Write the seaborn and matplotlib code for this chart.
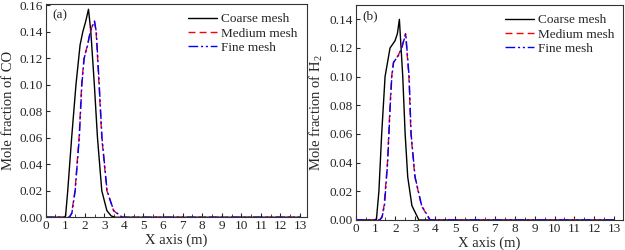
import numpy as np
import pandas as pd
import matplotlib
matplotlib.use("Agg")
import matplotlib.pyplot as plt
from matplotlib.ticker import MultipleLocator
import seaborn as sns

# CO mole fraction (panel a)
co_coarse_x = [0.0, 0.95, 1.02, 1.13, 1.33, 1.55, 1.76, 1.90, 2.05, 2.19, 2.31, 2.49, 2.65, 2.87, 3.13, 3.35, 3.55, 13.0]
co_coarse_y = [0.0, 0.0, 0.001, 0.02, 0.06, 0.10, 0.13, 0.14, 0.148, 0.157, 0.14, 0.10, 0.06, 0.02, 0.005, 0.001, 0.0, 0.0]
co_medium_x = [0.0, 1.20, 1.33, 1.50, 1.71, 1.84, 1.96, 2.14, 2.27, 2.40, 2.49, 2.58, 2.73, 2.87, 3.13, 3.47, 3.90, 13.0]
co_medium_y = [0.0, 0.0, 0.003, 0.02, 0.06, 0.10, 0.12, 0.13, 0.14, 0.145, 0.148, 0.14, 0.10, 0.06, 0.02, 0.005, 0.0, 0.0]
co_fine_x = [0.0, 1.22, 1.34, 1.51, 1.72, 1.85, 1.97, 2.15, 2.28, 2.41, 2.50, 2.59, 2.74, 2.88, 3.14, 3.48, 3.92, 13.0]
co_fine_y = [0.0, 0.0, 0.003, 0.02, 0.06, 0.10, 0.12, 0.13, 0.14, 0.145, 0.148, 0.14, 0.10, 0.06, 0.02, 0.005, 0.0, 0.0]

# H2 mole fraction (panel b)
h2_coarse_x = [0.0, 0.98, 1.05, 1.17, 1.31, 1.48, 1.73, 1.98, 2.10, 2.20, 2.37, 2.49, 2.62, 2.83, 3.18, 13.0]
h2_coarse_y = [0.0, 0.0, 0.001, 0.02, 0.06, 0.10, 0.12, 0.125, 0.13, 0.14, 0.10, 0.06, 0.03, 0.01, 0.0, 0.0]
h2_medium_x = [0.0, 1.20, 1.31, 1.43, 1.60, 1.73, 1.81, 1.90, 2.15, 2.31, 2.51, 2.68, 2.78, 2.98, 3.31, 3.73, 13.0]
h2_medium_y = [0.0, 0.0, 0.002, 0.01, 0.04, 0.08, 0.10, 0.11, 0.115, 0.12, 0.13, 0.10, 0.06, 0.03, 0.01, 0.0, 0.0]
h2_fine_x = [0.0, 1.22, 1.33, 1.45, 1.61, 1.74, 1.82, 1.91, 2.16, 2.32, 2.52, 2.69, 2.79, 2.99, 3.32, 3.75, 13.0]
h2_fine_y = [0.0, 0.0, 0.002, 0.01, 0.04, 0.08, 0.10, 0.11, 0.115, 0.12, 0.13, 0.10, 0.06, 0.03, 0.01, 0.0, 0.0]

labels = ["Coarse mesh", "Medium mesh", "Fine mesh"]
colors = ["black", "red", "blue"]
styles = ["-", (0, (5, 3)), (0, (7, 2, 1.5, 2, 1.5, 2))]

sns.set_style("ticks")
plt.rcParams["font.family"] = ["Liberation Serif", "DejaVu Serif"]
plt.rcParams["mathtext.fontset"] = "custom"
plt.rcParams["mathtext.rm"] = "Liberation Serif"
plt.rcParams["font.size"] = 9.5

fig = plt.figure(figsize=(6.25, 2.5), dpi=100)
ax1 = fig.add_axes([0.073, 0.131, 0.418, 0.853])
ax2 = fig.add_axes([0.569, 0.12, 0.428, 0.86])


def draw(ax, series, ylabel, ymax, tag):
    for (x, y), lab, c, ls in zip(series, labels, colors, styles):
        df = pd.DataFrame({"x": x, "y": y})
        sns.lineplot(data=df, x="x", y="y", ax=ax, color=c, linestyle=ls,
                     linewidth=1.0, label=lab, estimator=None, sort=False)
    ax.set_xlim(0, 13.45)
    ax.set_ylim(0, ymax)
    ax.set_xticks(range(0, 14))
    ax.xaxis.set_minor_locator(MultipleLocator(0.5))
    ax.yaxis.set_major_locator(MultipleLocator(0.02))
    ax.yaxis.set_major_formatter(matplotlib.ticker.FormatStrFormatter("%.2f"))
    ax.tick_params(direction="in", which="both", labelsize=9.5, length=3, pad=2)
    ax.tick_params(which="minor", length=2)
    for s in ax.spines.values():
        s.set_linewidth(0.8)
        s.set_color("#333333")
    ax.set_xlabel("X axis (m)", fontsize=10.5, labelpad=1)
    ax.set_ylabel(ylabel, fontsize=10.5, labelpad=3)
    ax.text(0.025, 0.975, tag, transform=ax.transAxes, va="top", ha="left", fontsize=9.5)
    ax.legend(loc="upper right", frameon=False, fontsize=9.5, handlelength=2.2,
              labelspacing=0.15, handletextpad=0.3, borderaxespad=0.3)


draw(ax1, [(co_coarse_x, co_coarse_y), (co_medium_x, co_medium_y), (co_fine_x, co_fine_y)],
     "Mole fraction of CO", 0.161, "(a)")
ax1.set_xlim(0, 13.35)
draw(ax2, [(h2_coarse_x, h2_coarse_y), (h2_medium_x, h2_medium_y), (h2_fine_x, h2_fine_y)],
     "Mole fraction of H$_\\mathrm{2}$", 0.15, "(b)")

fig.savefig("out.png", dpi=100)
